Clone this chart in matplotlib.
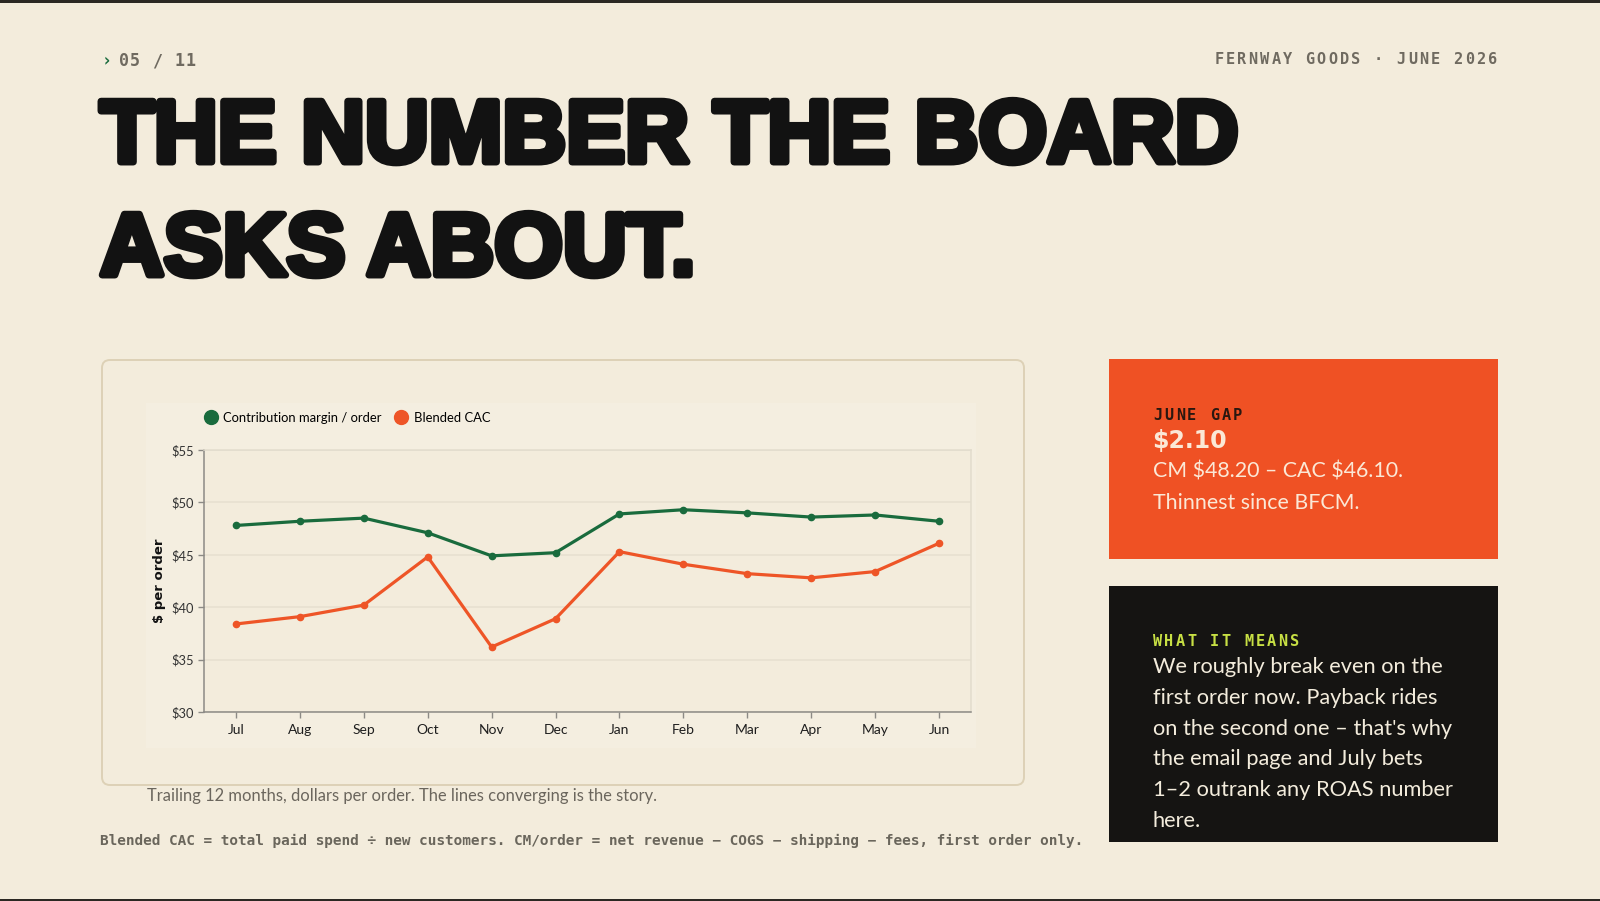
import matplotlib
matplotlib.use("Agg")
import matplotlib.pyplot as plt
from matplotlib.patches import FancyBboxPatch, Rectangle
from matplotlib.lines import Line2D
import matplotlib.patheffects as pe

# data
months = ["Jul", "Aug", "Sep", "Oct", "Nov", "Dec", "Jan", "Feb", "Mar", "Apr", "May", "Jun"]
cm_per_order = [47.8, 48.2, 48.5, 47.1, 44.9, 45.2, 48.9, 49.3, 49.0, 48.6, 48.8, 48.2]
blended_cac = [38.4, 39.1, 40.2, 44.8, 36.2, 38.9, 45.3, 44.1, 43.2, 42.8, 43.4, 46.1]
y_ticks = [30, 35, 40, 45, 50, 55]
y_tick_labels = ["$30", "$35", "$40", "$45", "$50", "$55"]

title_lines = ["THE NUMBER THE BOARD", "ASKS ABOUT."]
gap_lines = ["CM $48.20 \u2013 CAC $46.10.", "Thinnest since BFCM."]
means_lines = ["We roughly break even on the",
               "first order now. Payback rides",
               "on the second one \u2013 that's why",
               "the email page and July bets",
               "1\u20132 outrank any ROAS number",
               "here."]

BG = "#f3ecdc"
GREEN = "#196b3d"
ORANGE = "#ee5527"
INK = "#121212"
GREY = "#6f6a60"

W, H = 1600, 901
fig = plt.figure(figsize=(W / 100, H / 100), dpi=100, facecolor=BG)

# overlay axes in pixel coordinates for the slide layout
lay = fig.add_axes([0, 0, 1, 1])
lay.set_xlim(0, W)
lay.set_ylim(H, 0)
lay.axis("off")
lay.set_facecolor("none")


def tracked(x, y, s, size, track, color, ha="left"):
    # monospace text with letter spacing, char by char
    cw = 0.602 * size / 0.72
    step = cw + track
    total = len(s) * step - track
    x0 = x if ha == "left" else x - total
    for i, ch in enumerate(s):
        lay.text(x0 + i * step, y, ch, fontsize=size, family="DejaVu Sans Mono",
                 weight="bold", color=color, va="center", ha="left")


# thin dark frame lines top / bottom
lay.add_patch(Rectangle((0, 0), W, 2.5, color="#2b2823", lw=0))
lay.add_patch(Rectangle((0, H - 2.5), W, 2.5, color="#2b2823", lw=0))

# header
lay.text(102, 61, "\u203a", fontsize=12, family="DejaVu Sans Mono", weight="bold",
         color=GREEN, va="center")
tracked(119, 61, "05 / 11", 12, 1.0, GREY)
tracked(1497, 60, "FERNWAY GOODS \u00b7 JUNE 2026", 11, 2.2, GREY, ha="right")

# title
for i, line in enumerate(title_lines):
    lay.text(100, 162 + i * 113, line, fontsize=63.6, family="Liberation Sans",
             weight="bold", color=INK, va="baseline", ha="left",
             path_effects=[pe.withStroke(linewidth=5, foreground=INK)])

# chart card
lay.add_patch(FancyBboxPatch((102, 360), 922, 425, boxstyle="round,pad=0,rounding_size=8",
                             facecolor="#f3ecdc", edgecolor="#ddd1b6", lw=1.4))
lay.add_patch(Rectangle((146, 403), 830, 345, facecolor="#f4eee0", edgecolor="none"))

lay.text(147, 796, "Trailing 12 months, dollars per order. The lines converging is the story.",
         fontsize=11.9, family="Lato", color="#6b665d", va="center")
lay.text(100, 841, "Blended CAC = total paid spend \u00f7 new customers. CM/order = net revenue \u2212 COGS \u2212 shipping \u2212 fees, first order only.",
         fontsize=10.39, family="DejaVu Sans Mono", weight="bold", color="#6a665c", va="center")

# orange box
lay.add_patch(Rectangle((1109, 359), 389, 200, facecolor="#ef5124", edgecolor="none"))
tracked(1153, 415, "JUNE GAP", 11, 2.2, "#2a1710")
lay.text(1152, 441, "$2.10", fontsize=17, family="DejaVu Sans", weight="bold",
         color="#fbe8d6", va="center", parse_math=False)
for i, line in enumerate(gap_lines):
    lay.text(1153, 472 + i * 31, line, fontsize=15.4, family="Lato", color="#fbe8d6",
             va="center", parse_math=False)

# dark box
lay.add_patch(Rectangle((1109, 586), 389, 256, facecolor="#151412", edgecolor="none"))
tracked(1153, 641, "WHAT IT MEANS", 11, 2.2, "#c8e044")
for i, line in enumerate(means_lines):
    lay.text(1153, 667 + i * 30.8, line, fontsize=15.7, family="Lato", color="#f3ecdc",
             va="center")

# line chart
ax = fig.add_axes([204 / W, 1 - 712 / H, 767 / W, 262 / H])
ax.set_facecolor("#f3ecdc")
x = range(len(months))
ax.plot(x, cm_per_order, color=GREEN, lw=2.3, marker="o", ms=4.5, zorder=3)
ax.plot(x, blended_cac, color=ORANGE, lw=2.3, marker="o", ms=4.5, zorder=3)
ax.set_xlim(-0.5, len(months) - 0.5)
ax.set_ylim(30, 55)
ax.set_xticks(list(x))
ax.set_xticklabels(months, fontsize=10, family="Lato", color="#1e1e1e")
ax.set_yticks(y_ticks)
ax.set_yticklabels(y_tick_labels, fontsize=9.3, family="Lato", color="#333333")
ax.grid(axis="y", color="#e6dfcf", lw=1.1)
ax.set_axisbelow(True)
for side in ["left", "bottom"]:
    ax.spines[side].set_color("#8c8a85")
    ax.spines[side].set_linewidth(1.1)
for side in ["top", "right"]:
    ax.spines[side].set_color("#e2dccd")
    ax.spines[side].set_linewidth(1.1)
ax.tick_params(axis="both", length=4, width=1, color="#8c8a85")
ax.tick_params(axis="x", pad=5)
ax.set_ylabel("$ per order", fontsize=9.5, family="DejaVu Sans", weight="bold", color=INK)
ax.yaxis.set_label_coords(-0.05, 0.5)

handles = [Line2D([], [], marker="o", color=GREEN, ls="", ms=10),
           Line2D([], [], marker="o", color=ORANGE, ls="", ms=10)]
ax.legend(handles, ["Contribution margin / order", "Blended CAC"], loc="center left",
          bbox_to_anchor=(0.002, 1.122), ncol=2, frameon=False, handlelength=0.8,
          handletextpad=0.55, columnspacing=1.1, borderpad=0, borderaxespad=0,
          prop={"family": "Lato", "size": 9.4})

fig.savefig("out.png", dpi=100, facecolor=BG)
